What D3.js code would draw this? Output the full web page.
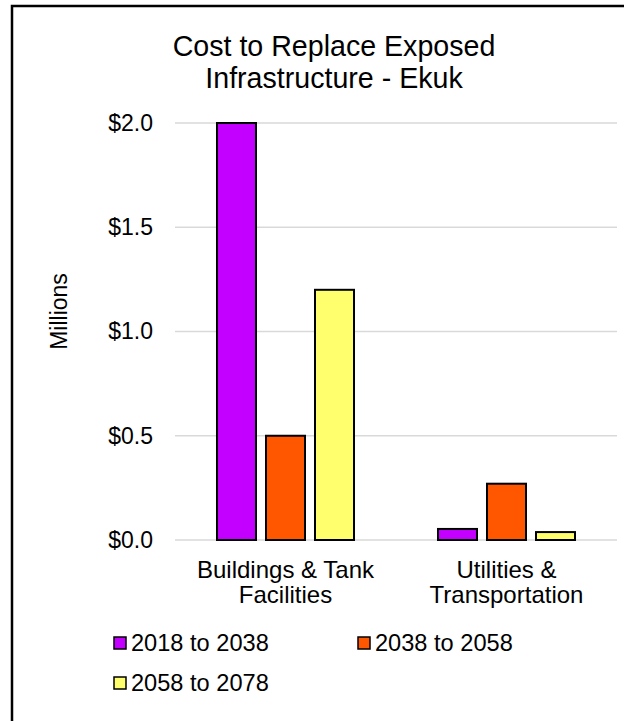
<!DOCTYPE html>
<html>
<head>
<meta charset="utf-8">
<script src="https://cdn.jsdelivr.net/npm/d3@7"></script>
<style>
  body { margin: 0; background: #fff; }
  svg text { font-family: "Liberation Sans", Arial, sans-serif; fill: #000; }
</style>
</head>
<body>
<div id="chart"></div>
<script>
const categories = [["Buildings & Tank", "Facilities"], ["Utilities &", "Transportation"]];
const seriesNames = ["2018 to 2038", "2038 to 2058", "2058 to 2078"];
const seriesColors = ["#C300FF", "#FF5600", "#FFFF6E"];
const values2018 = [2.0, 0.053];
const values2038 = [0.5, 0.27];
const values2058 = [1.2, 0.038];
const yTicks = [0, 0.5, 1.0, 1.5, 2.0];
const titleLines = ["Cost to Replace Exposed", "Infrastructure - Ekuk"];

const width = 624, height = 721;
const margin = {top: 123, right: 7, bottom: 181, left: 175};
const innerW = width - margin.left - margin.right;
const innerH = height - margin.top - margin.bottom;

const allSeries = [values2018, values2038, values2058];
const catKeys = categories.map(c => c.join(" "));

const svg = d3.select("#chart").append("svg")
  .attr("width", width)
  .attr("height", height);

// frame (cut off at right and bottom)
svg.append("rect")
  .attr("x", 12).attr("y", 6)
  .attr("width", 640).attr("height", 740)
  .attr("fill", "none")
  .attr("stroke", "#000")
  .attr("stroke-width", 2.5);

const g = svg.append("g")
  .attr("transform", `translate(${margin.left},${margin.top})`);

const x0 = d3.scaleBand().domain(catKeys).range([0, innerW]).padding(0);
const x1 = d3.scaleBand().domain(seriesNames).range([0, x0.bandwidth()])
  .paddingInner(0.204).paddingOuter(0.857);
const y = d3.scaleLinear().domain([0, 2.0]).range([innerH, 0]);

// gridlines
g.append("g")
  .selectAll("line")
  .data(yTicks)
  .join("line")
  .attr("x1", 0).attr("x2", innerW)
  .attr("y1", d => y(d)).attr("y2", d => y(d))
  .attr("stroke", "#d9d9d9")
  .attr("stroke-width", 1.5);

// y axis labels
const yAxis = d3.axisLeft(y).tickValues(yTicks)
  .tickFormat(d => "$" + d3.format(".1f")(d))
  .tickSize(0).tickPadding(22);
g.append("g").call(yAxis)
  .attr("font-size", null)
  .attr("font-family", null)
  .call(a => a.select(".domain").remove())
  .selectAll("text")
  .style("font-size", "23px");

// x axis labels
const xAxis = g.append("g").attr("transform", `translate(0,${innerH})`);
categories.forEach((lines, i) => {
  const cx = x0(catKeys[i]) + x0.bandwidth() / 2;
  const t = xAxis.append("text")
    .attr("x", cx)
    .attr("y", 38)
    .attr("text-anchor", "middle")
    .style("font-size", "24px");
  lines.forEach((l, j) => {
    t.append("tspan")
      .attr("x", cx)
      .attr("dy", j === 0 ? 0 : 25)
      .text(l);
  });
});

// bars
seriesNames.forEach((s, si) => {
  g.append("g").selectAll("rect")
    .data(allSeries[si])
    .join("rect")
    .attr("x", (d, i) => x0(catKeys[i]) + x1(s))
    .attr("y", d => y(d))
    .attr("width", x1.bandwidth())
    .attr("height", d => innerH - y(d))
    .attr("fill", seriesColors[si])
    .attr("stroke", "#000")
    .attr("stroke-width", 2);
});

// y title
svg.append("text")
  .attr("transform", `translate(67,${margin.top + innerH / 2 - 20}) rotate(-90)`)
  .attr("text-anchor", "middle")
  .style("font-size", "23px")
  .text("Millions");

// title
svg.append("text")
  .attr("x", 334).attr("y", 56)
  .attr("text-anchor", "middle")
  .style("font-size", "28.6px")
  .selectAll("tspan")
  .data(titleLines)
  .join("tspan")
  .attr("x", 334)
  .attr("dy", (d, i) => i === 0 ? 0 : 32)
  .text(d => d);

// legend
const legendPos = [[113, 643], [357, 643], [113, 683]];
const legend = svg.append("g");
seriesNames.forEach((s, i) => {
  const [lx, ly] = legendPos[i];
  legend.append("rect")
    .attr("x", lx + 1).attr("y", ly - 6)
    .attr("width", 12).attr("height", 12)
    .attr("fill", seriesColors[i])
    .attr("stroke", "#000")
    .attr("stroke-width", 1.5);
  legend.append("text")
    .attr("x", lx + 18).attr("y", ly + 8)
    .style("font-size", "23.6px")
    .text(s);
});
</script>
</body>
</html>
